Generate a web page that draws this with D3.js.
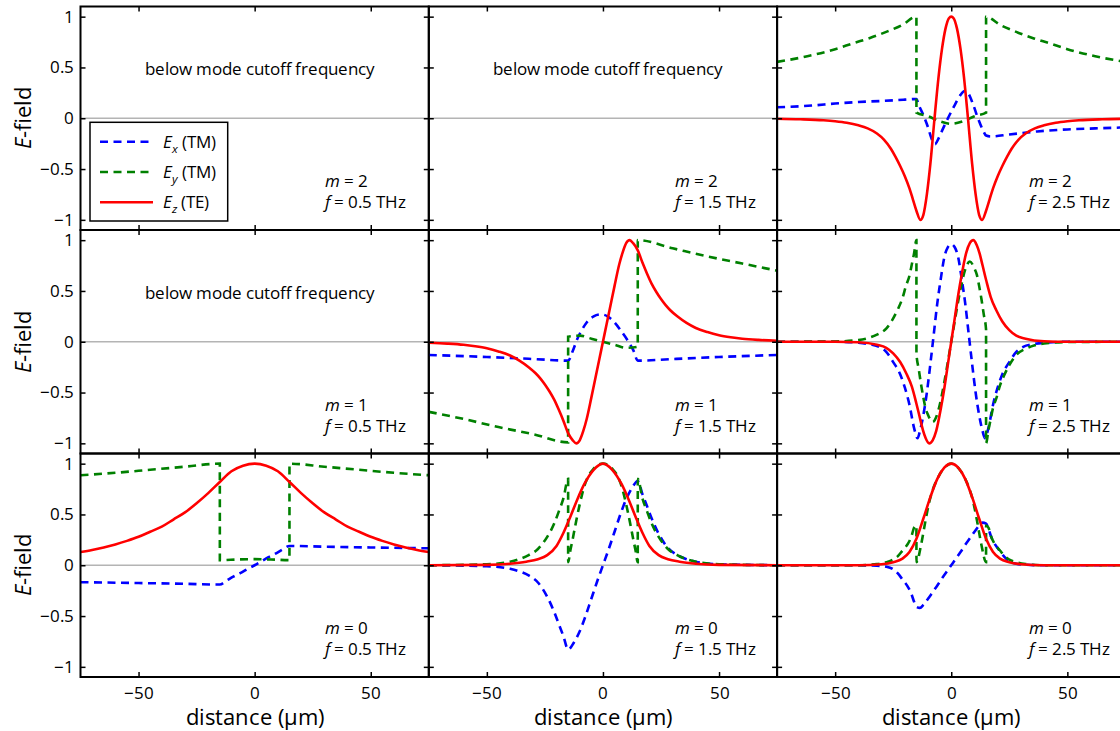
<!DOCTYPE html>
<html><head><meta charset="utf-8">
<script src="https://cdn.jsdelivr.net/npm/d3@7"></script>
<style>
@font-face{font-family:"OST";font-style:normal;font-weight:400;
  src:local("Open Sans Regular"),local("OpenSans-Regular"),local("Open Sans");
  ascent-override:90%;descent-override:22%;line-gap-override:0%}
@font-face{font-family:"OST";font-style:italic;font-weight:400;
  src:local("Open Sans Italic"),local("OpenSans-Italic");
  ascent-override:90%;descent-override:22%;line-gap-override:0%}
body{margin:0;background:#fff}
svg{display:block}
text{font-family:"OST","Open Sans",sans-serif;fill:#000}
</style>
</head><body>
<svg id="chart" width="1120" height="731"></svg>
<script>
// ---------- data ----------
const xTicks = [-50, 0, 50];
const yTicks = [-1, -0.5, 0, 0.5, 1];
const modes = [2, 1, 0];
const freqs = ["0.5", "1.5", "2.5"];
const seriesNames = ["Ex", "Ey", "Ez"];
const belowText = "below mode cutoff frequency";

// m = 2, f = 2.5 THz
const ex_m2_f25 = [[-75,0.108],[-60,0.125],[-50,0.145],[-40,0.16],[-30,0.17],[-20,0.183],[-15,0.19],[-14,0.13],[-12,0.03],[-10,-0.09],[-8.5,-0.2],[-7,-0.255],[-5.5,-0.2],[-3.5,-0.1],[-1,0.02],[1.5,0.13],[4,0.23],[6,0.27],[7.5,0.24],[9.5,0.13],[11.5,0],[13.5,-0.11],[15,-0.17],[17,-0.18],[25,-0.16],[37,-0.13],[50,-0.11],[62,-0.1],[75,-0.09]];
const ey_m2_f25 = [[-75,0.555],[-62,0.61],[-50,0.68],[-42,0.74],[-35,0.79],[-28,0.85],[-21,0.92],[-15,1.0],[-14.99,0.055],[-10,0.02],[-5,-0.03],[0,-0.055],[5,-0.03],[10,0.02],[14.99,0.055],[15,1.0],[21,0.92],[28,0.85],[35,0.79],[42,0.74],[50,0.68],[62,0.61],[75,0.555]];
const ez_m2_f25 = [[-75,-0.005],[-65,-0.01],[-55,-0.02],[-50,-0.03],[-45,-0.045],[-40,-0.07],[-36,-0.1],[-32,-0.15],[-29,-0.21],[-26,-0.3],[-24,-0.38],[-22,-0.47],[-20,-0.57],[-18,-0.69],[-16.5,-0.8],[-15,-0.91],[-13.3,-1.0],[-12,-0.95],[-10.5,-0.75],[-9,-0.45],[-7.2,0],[-5.5,0.4],[-4,0.68],[-2.5,0.88],[-1,0.985],[0,1],[1,0.985],[2.5,0.88],[4,0.68],[5.5,0.4],[7.2,0],[9,-0.45],[10.5,-0.75],[12,-0.95],[13.3,-1.0],[15,-0.91],[16.5,-0.8],[18,-0.69],[20,-0.57],[22,-0.47],[24,-0.38],[26,-0.3],[29,-0.21],[32,-0.15],[36,-0.1],[40,-0.07],[45,-0.045],[50,-0.03],[55,-0.02],[65,-0.01],[75,-0.005]];

// m = 1, f = 1.5 THz
const ex_m1_f15 = [[-75,-0.13],[-50,-0.15],[-30,-0.17],[-15,-0.186],[-13,-0.09],[-11,0.03],[-9,0.12],[-7,0.19],[-4,0.25],[-1,0.27],[2,0.25],[5,0.19],[8,0.1],[11,0.0],[13,-0.08],[15,-0.186],[30,-0.17],[50,-0.15],[75,-0.13]];
const ey_m1_f15 = [[-75,-0.69],[-60,-0.76],[-45,-0.84],[-30,-0.91],[-15,-0.99],[-14.99,0.05],[-10,0.06],[-5,0.03],[0,0],[5,-0.03],[10,-0.06],[14.99,-0.05],[15,1.0],[30,0.92],[45,0.84],[60,0.77],[75,0.70]];
const ez_m1_f15 = [[-75,-0.01],[-67,-0.018],[-60,-0.03],[-55,-0.045],[-50,-0.065],[-45,-0.095],[-40,-0.135],[-36,-0.185],[-32,-0.25],[-29,-0.31],[-27,-0.36],[-25,-0.42],[-23,-0.49],[-21,-0.57],[-19,-0.67],[-17,-0.78],[-15,-0.9],[-13,-0.97],[-11.5,-1.0],[-10,-0.97],[-8.5,-0.88],[-7,-0.76],[-5,-0.55],[-3,-0.33],[-1.5,-0.165],[0,0],[1.5,0.165],[3,0.33],[5,0.55],[7,0.76],[8.5,0.88],[10,0.97],[11.5,1.0],[13,0.97],[15,0.9],[17,0.78],[19,0.67],[21,0.57],[23,0.49],[25,0.42],[27,0.36],[29,0.31],[32,0.25],[36,0.185],[40,0.135],[45,0.095],[50,0.065],[55,0.045],[60,0.03],[67,0.018],[75,0.01]];

// m = 1, f = 2.5 THz
const ex_m1_f25 = [[-75,0],[-50,0],[-40,-0.01],[-35,-0.025],[-31,-0.05],[-28,-0.1],[-25,-0.2],[-22,-0.32],[-20,-0.45],[-18,-0.62],[-16,-0.85],[-14.5,-0.95],[-13.5,-0.88],[-12,-0.72],[-10.5,-0.5],[-9,-0.22],[-7.5,0.08],[-6,0.38],[-4.5,0.62],[-3,0.83],[-1.5,0.93],[0,0.96],[1.5,0.93],[3,0.83],[4.5,0.62],[6,0.38],[7.5,0.08],[9,-0.22],[10.5,-0.5],[12,-0.72],[13.5,-0.88],[14.5,-0.95],[16,-0.85],[18,-0.62],[20,-0.45],[22,-0.32],[25,-0.2],[28,-0.1],[31,-0.05],[35,-0.025],[40,-0.01],[50,0],[75,0]];
const ey_m1_f25 = [[-75,0],[-50,0.003],[-40,0.017],[-36,0.035],[-32,0.07],[-28,0.13],[-25,0.23],[-23,0.32],[-21,0.43],[-19.5,0.55],[-18,0.65],[-17,0.76],[-16,0.87],[-15,1.0],[-14.99,-0.12],[-14,-0.27],[-13,-0.42],[-12,-0.55],[-11,-0.66],[-10,-0.72],[-8,-0.79],[-6,-0.71],[-4,-0.52],[-2,-0.27],[0,0],[2,0.27],[4,0.52],[6,0.71],[8,0.79],[10,0.72],[11,0.66],[12,0.55],[13,0.42],[14,0.27],[14.99,0.12],[15,-1.0],[16,-0.87],[17,-0.76],[18,-0.65],[19.5,-0.55],[21,-0.43],[23,-0.32],[25,-0.23],[28,-0.13],[32,-0.07],[36,-0.035],[40,-0.017],[50,-0.003],[75,0]];
const ez_m1_f25 = [[-75,0],[-50,0],[-40,-0.005],[-32,-0.03],[-28,-0.06],[-25,-0.115],[-22,-0.2],[-19.4,-0.31],[-17,-0.44],[-15.1,-0.6],[-13.5,-0.75],[-12.2,-0.87],[-11,-0.95],[-9.5,-1.0],[-8,-0.97],[-6.5,-0.88],[-4.5,-0.66],[-3,-0.46],[-1.5,-0.23],[0,0],[1.5,0.23],[3,0.46],[4.5,0.66],[6.5,0.88],[8,0.97],[9.5,1.0],[11,0.95],[12.2,0.87],[13.5,0.75],[15.1,0.6],[17,0.44],[19.4,0.31],[22,0.2],[25,0.115],[28,0.06],[32,0.03],[40,0.005],[50,0],[75,0]];

// m = 0, f = 0.5 THz
const ex_m0_f05 = [[-75,-0.167],[-50,-0.175],[-30,-0.183],[-15,-0.19],[-12,-0.15],[-9,-0.11],[-6,-0.075],[-3,-0.035],[0,0],[3,0.04],[6,0.08],[9,0.115],[12,0.155],[15,0.19],[30,0.183],[50,0.175],[75,0.167]];
const ey_m0_f05 = [[-75,0.886],[-60,0.91],[-45,0.94],[-30,0.97],[-15,1.0],[-14.99,0.05],[-7,0.057],[0,0.06],[7,0.057],[14.99,0.05],[15,1.0],[30,0.97],[45,0.94],[60,0.91],[75,0.886]];
const ez_m0_f05 = [[-75,0.13],[-70,0.15],[-65,0.175],[-60,0.205],[-55,0.24],[-50,0.28],[-45,0.33],[-40,0.38],[-35,0.45],[-30,0.52],[-25,0.61],[-20,0.71],[-15,0.82],[-10,0.925],[-5,0.98],[0,1],[5,0.98],[10,0.925],[15,0.82],[20,0.71],[25,0.61],[30,0.52],[35,0.45],[40,0.38],[45,0.33],[50,0.28],[55,0.24],[60,0.205],[65,0.175],[70,0.15],[75,0.13]];

// m = 0, f = 1.5 THz
const ex_m0_f15 = [[-75,0],[-50,-0.01],[-40,-0.035],[-36,-0.06],[-32,-0.1],[-28,-0.17],[-24,-0.31],[-21,-0.46],[-19,-0.58],[-17,-0.7],[-15,-0.83],[-12.5,-0.76],[-10,-0.65],[-7.5,-0.5],[-5,-0.33],[-2.5,-0.16],[0,0],[2.5,0.16],[5,0.33],[7.5,0.5],[10,0.65],[12.5,0.76],[15,0.83],[17,0.7],[19,0.58],[21,0.46],[24,0.31],[28,0.17],[32,0.1],[36,0.06],[40,0.035],[50,0.01],[75,0]];
const ey_m0_f15 = [[-75,0],[-50,0.01],[-40,0.035],[-36,0.06],[-32,0.1],[-28,0.16],[-24,0.28],[-21,0.41],[-19,0.53],[-17,0.66],[-15,0.85],[-14.99,0.03],[-14,0.15],[-13,0.26],[-12,0.38],[-10,0.6],[-8,0.78],[-6,0.89],[-4,0.95],[-2,0.99],[0,1],[2,0.99],[4,0.95],[6,0.89],[8,0.78],[10,0.6],[12,0.38],[13,0.26],[14,0.15],[14.99,0.03],[15,0.85],[17,0.66],[19,0.53],[21,0.41],[24,0.28],[28,0.16],[32,0.1],[36,0.06],[40,0.035],[50,0.01],[75,0]];
const ez_m0_f15 = [[-75,0],[-50,0.004],[-40,0.015],[-33,0.035],[-28,0.06],[-24,0.1],[-20,0.19],[-17,0.32],[-14,0.48],[-11,0.65],[-8,0.8],[-4,0.94],[0,1],[4,0.94],[8,0.8],[11,0.65],[14,0.48],[17,0.32],[20,0.19],[24,0.1],[28,0.06],[33,0.035],[40,0.015],[50,0.004],[75,0]];

// m = 0, f = 2.5 THz
const ex_m0_f25 = [[-75,0],[-40,0],[-32,-0.005],[-28,-0.015],[-25,-0.04],[-23,-0.08],[-21,-0.14],[-19,-0.2],[-17.2,-0.28],[-16,-0.36],[-15,-0.41],[-13.5,-0.42],[-12,-0.39],[-10,-0.33],[-8,-0.265],[-6,-0.2],[-4,-0.13],[-2,-0.065],[0,0],[2,0.065],[4,0.13],[6,0.2],[8,0.265],[10,0.33],[12,0.39],[13.5,0.42],[15,0.41],[16,0.36],[17.2,0.28],[19,0.2],[21,0.14],[23,0.08],[25,0.04],[28,0.015],[32,0.005],[40,0],[75,0]];
const ey_m0_f25 = [[-75,0],[-40,0],[-32,0.012],[-28,0.03],[-25,0.056],[-23,0.09],[-21,0.145],[-19,0.2],[-17.2,0.28],[-16,0.37],[-15,0.39],[-14.99,0.03],[-13,0.2],[-11,0.45],[-9.5,0.62],[-8,0.74],[-6,0.85],[-4,0.93],[-2,0.98],[0,1],[2,0.98],[4,0.93],[6,0.85],[8,0.74],[9.5,0.62],[11,0.45],[13,0.2],[14.99,0.03],[15,0.39],[16,0.37],[17.2,0.28],[19,0.2],[21,0.145],[23,0.09],[25,0.056],[28,0.03],[32,0.012],[40,0],[75,0]];
const ez_m0_f25 = [[-75,0],[-40,0],[-30,0.01],[-25,0.03],[-21,0.065],[-18,0.13],[-15,0.26],[-12,0.46],[-9,0.67],[-6,0.85],[-3,0.96],[0,1],[3,0.96],[6,0.85],[9,0.67],[12,0.46],[15,0.26],[18,0.13],[21,0.065],[25,0.03],[30,0.01],[40,0],[75,0]];

// panel table built from the arrays above (null = below cutoff)
const panelData = {
  "2_0.5": null, "2_1.5": null, "2_2.5": [ex_m2_f25, ey_m2_f25, ez_m2_f25],
  "1_0.5": null, "1_1.5": [ex_m1_f15, ey_m1_f15, ez_m1_f15], "1_2.5": [ex_m1_f25, ey_m1_f25, ez_m1_f25],
  "0_0.5": [ex_m0_f05, ey_m0_f05, ez_m0_f05], "0_1.5": [ex_m0_f15, ey_m0_f15, ez_m0_f15], "0_2.5": [ex_m0_f25, ey_m0_f25, ez_m0_f25]
};

// ---------- layout & style ----------
const colX = [80.5, 428.8, 777.1], rowY = [6.5, 230, 453.5];
const W = 348.3, H = 223.5;
const annX = [244.5, 246, 252];
const FS = 17;
const FONT = '"OST","Open Sans",sans-serif';
const styles = [
  {color:"#0000ff", dash:"8,5.5"},
  {color:"#008000", dash:"8,5.5"},
  {color:"#ff0000", dash:null}
];

const svg = d3.select("#chart");
const x = d3.scaleLinear().domain([-75, 75]).range([0, W]);
const y = d3.scaleLinear().domain([-1.1, 1.1]).range([H, 0]);
const line = d3.line().x(d => x(d[0])).y(d => y(d[1])).curve(d3.curveMonotoneX);
const fmt = d3.format("~g");

modes.forEach((m, r) => {
  freqs.forEach((f, c) => {
    const g = svg.append("g").attr("transform", `translate(${colX[c]},${rowY[r]})`);
    const id = `clip${r}${c}`;
    g.append("clipPath").attr("id", id).append("rect").attr("width", W).attr("height", H);
    g.append("line").attr("x1", 0).attr("x2", W).attr("y1", y(0)).attr("y2", y(0))
      .attr("stroke", "#b4b4b4").attr("stroke-width", 1.4);
    const data = panelData[`${m}_${f}`];
    const plot = g.append("g").attr("clip-path", `url(#${id})`);
    if (data) {
      data.forEach((s, i) => {
        plot.append("path").attr("d", line(s)).attr("fill", "none")
          .attr("stroke", styles[i].color).attr("stroke-width", 2.6)
          .attr("stroke-dasharray", styles[i].dash);
      });
    } else {
      g.append("text").attr("x", 179).attr("y", 68.5).attr("text-anchor", "middle")
        .attr("font-size", FS).text(belowText);
    }
    const bottom = d3.axisBottom(x).tickValues(xTicks).tickSize(-5).tickPadding(9.5)
      .tickFormat(r === 2 ? fmt : () => "");
    const top = d3.axisTop(x).tickValues(xTicks).tickSize(-5).tickFormat(() => "");
    const left = d3.axisLeft(y).tickValues(yTicks).tickSize(-5).tickPadding(6.5)
      .tickFormat(c === 0 ? fmt : () => "");
    const right = d3.axisRight(y).tickValues(yTicks).tickSize(-5).tickFormat(() => "");
    [[bottom, `translate(0,${H})`], [top, "translate(0,0)"], [left, "translate(0,0)"], [right, `translate(${W},0)`]]
      .forEach(([ax, tr]) => {
        const a = g.append("g").attr("transform", tr).call(ax);
        a.select(".domain").remove();
        a.selectAll(".tick line").attr("stroke", "#000").attr("stroke-width", 1.5);
        a.selectAll(".tick text").attr("font-size", FS).attr("font-family", FONT).attr("fill", "#000");
      });
    g.append("rect").attr("width", W).attr("height", H).attr("fill", "none")
      .attr("stroke", "#000").attr("stroke-width", 2);
    const t = g.append("text").attr("x", annX[c]).attr("y", 180.5).attr("font-size", FS);
    t.append("tspan").attr("font-style", "italic").text("m");
    t.append("tspan").text(" = " + m);
    t.append("tspan").attr("x", annX[c]).attr("dy", 21.3).attr("font-style", "italic").text("f");
    t.append("tspan").text(" = " + f + " THz");
  });
  const cy = rowY[r] + H / 2;
  const yl = svg.append("text").attr("transform", `translate(31,${cy}) rotate(-90)`)
    .attr("text-anchor", "middle").attr("font-size", 22);
  yl.append("tspan").attr("font-style", "italic").text("E");
  yl.append("tspan").text("-field");
});

freqs.forEach((f, c) => {
  svg.append("text").attr("x", colX[c] + x(0)).attr("y", 724.5).attr("text-anchor", "middle")
    .attr("font-size", 21.5).text("distance (\u03bcm)");
});

// legend
const lg = svg.append("g").attr("transform", `translate(${colX[0] + 9.5},${rowY[0] + 115.8})`);
lg.append("rect").attr("width", 137.7).attr("height", 98.7).attr("fill", "#fff")
  .attr("stroke", "#000").attr("stroke-width", 1.5);
const subs = ["x", "y", "z"], kinds = ["TM", "TM", "TE"];
seriesNames.forEach((n, i) => {
  const ly = 19.4 + i * 30.3;
  lg.append("line").attr("x1", 10).attr("x2", 63).attr("y1", ly).attr("y2", ly)
    .attr("stroke", styles[i].color).attr("stroke-width", 2.6).attr("stroke-dasharray", styles[i].dash);
  const t = lg.append("text").attr("x", 73).attr("y", ly + 6).attr("font-size", FS);
  t.append("tspan").attr("font-style", "italic").text("E");
  t.append("tspan").attr("font-style", "italic").attr("font-size", 11.5).attr("dy", 5).text(subs[i]);
  t.append("tspan").attr("dy", -5).text(" (" + kinds[i] + ")");
});
</script>
</body></html>
